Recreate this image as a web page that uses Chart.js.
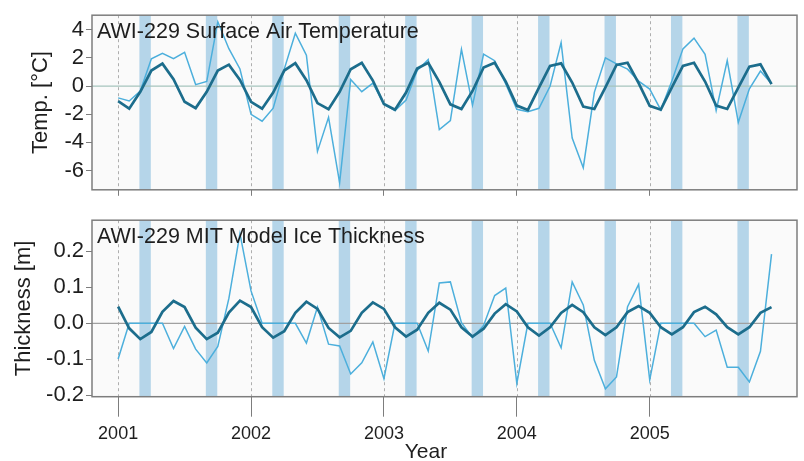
<!DOCTYPE html>
<html>
<head>
<meta charset="utf-8">
<script src="https://cdn.jsdelivr.net/npm/chart.js@4/dist/chart.umd.min.js"></script>
<style>
  body { margin: 0; background: #fff; }
  #wrap { position: relative; width: 804px; height: 461px; }
  canvas { position: absolute; left: 0; }
  #tempChart { top: 0; }
  #iceChart { top: 205px; }
</style>
</head>
<body>
<div id="wrap">
  <canvas id="tempChart" width="804" height="205"></canvas>
  <canvas id="iceChart" width="804" height="256"></canvas>
</div>
<script>
// monthly steps from Jan 2001 to Dec 2005
const months = Array.from({ length: 60 }, (_, i) => i);
const yearTicks = [0, 12, 24, 36, 48];
const yearLabels = ['2001', '2002', '2003', '2004', '2005'];
// shaded months (Mar and Sep of each year)
const bandStarts = [2, 8, 14, 20, 26, 32, 38, 44, 50, 56];

// surface air temperature, observed (thin) and fitted cycle (thick)
const tempObs = [-0.84, -1.06, -0.35, 1.94, 2.32, 1.94, 2.39, 0.10, 0.32, 4.56, 2.65, 1.21,
                 -2.01, -2.50, -1.57, 1.20, 3.75, 2.19, -4.64, -2.22, -6.87, 0.47, -0.40, 0.20,
                 -1.30, -1.75, -1.00, 1.10, 1.88, -3.10, -2.45, 2.60, -1.36, 2.26, 1.80, 0.15,
                 -1.65, -1.83, -1.58, -0.02, 3.08, -3.69, -5.80, -0.45, 2.00, 1.57, 1.20, 0.35,
                 -0.22, -1.70, 0.35, 2.64, 3.40, 2.25, -1.75, 1.81, -2.58, -0.20, 1.06, 0.16];
const tempFit = [-1.08, -1.61, -0.41, 1.10, 1.59, 0.48, -1.12, -1.57, -0.41, 1.10, 1.52, 0.43,
                 -1.12, -1.61, -0.46, 1.10, 1.62, 0.41, -1.21, -1.64, -0.41, 1.19, 1.65, 0.39,
                 -1.28, -1.68, -0.46, 1.25, 1.65, 0.30, -1.30, -1.63, -0.35, 1.32, 1.65, 0.32,
                 -1.39, -1.70, -0.12, 1.43, 1.61, 0.25, -1.46, -1.63, -0.10, 1.50, 1.65, 0.20,
                 -1.41, -1.68, -0.10, 1.43, 1.65, 0.32, -1.39, -1.63, -0.12, 1.37, 1.54, 0.14];
const tempTicks = [-6, -4, -2, 0, 2, 4];

// model ice thickness, observed (thin) and fitted cycle (thick)
const iceObs = [-0.099, 0, 0, 0, 0, -0.070, -0.009, -0.072, -0.110, -0.064, 0.069, 0.249,
                0.090, 0, 0, 0, 0, -0.055, 0.045, -0.058, -0.063, -0.141, -0.110, -0.052,
                -0.154, 0, 0, 0, -0.077, 0.112, 0.115, 0.002, -0.040, -0.006, 0.077, 0.098,
                -0.167, 0, 0, 0, -0.068, 0.115, 0.051, -0.103, -0.182, -0.149, 0.046, 0.108,
                -0.157, 0, 0, 0, 0, -0.037, -0.019, -0.122, -0.122, -0.163, -0.078, 0.192];
const iceFit = [0.046, -0.014, -0.044, -0.024, 0.032, 0.062, 0.045, -0.012, -0.044, -0.026, 0.030, 0.063,
                0.045, -0.011, -0.040, -0.022, 0.029, 0.060, 0.040, -0.013, -0.039, -0.021, 0.029, 0.058,
                0.040, -0.011, -0.037, -0.018, 0.029, 0.057, 0.038, -0.011, -0.037, -0.015, 0.027, 0.053,
                0.033, -0.011, -0.034, -0.011, 0.029, 0.051, 0.031, -0.011, -0.033, -0.011, 0.031, 0.048,
                0.029, -0.011, -0.031, -0.011, 0.031, 0.046, 0.025, -0.011, -0.031, -0.011, 0.029, 0.045];
const iceTicks = [-0.2, -0.1, 0.0, 0.1, 0.2];

const FONT = '"Liberation Sans", Arial, sans-serif';
const TEXT = '#1e1e1e';
const FRAME = '#7d7d7d';
const THIN = '#4cafdc';
const THICK = '#1c6d8c';

// panel background, shaded months, year lines, zero line, frame and heading
const panelDecor = {
  id: 'panelDecor',
  beforeDatasetsDraw(chart, args, opts) {
    const { ctx, chartArea: a, scales: { x, y } } = chart;
    ctx.save();
    ctx.fillStyle = '#fafafa';
    ctx.fillRect(a.left, a.top, a.width, a.height);
    ctx.fillStyle = '#b5d5e9';
    bandStarts.forEach(m => {
      const x0 = x.getPixelForValue(m - 0.08);
      const x1 = x.getPixelForValue(m + 0.95);
      ctx.fillRect(x0, a.top, x1 - x0, a.height);
    });
    ctx.strokeStyle = '#aeaeae';
    ctx.lineWidth = 1;
    ctx.setLineDash([3, 3]);
    yearTicks.forEach(m => {
      const px = Math.round(x.getPixelForValue(m)) + 0.5;
      ctx.beginPath();
      ctx.moveTo(px, a.top);
      ctx.lineTo(px, a.bottom);
      ctx.stroke();
    });
    ctx.setLineDash([]);
    ctx.strokeStyle = opts.zeroColor;
    ctx.lineWidth = 1.2;
    const py = y.getPixelForValue(0);
    ctx.beginPath();
    ctx.moveTo(a.left, py);
    ctx.lineTo(a.right, py);
    ctx.stroke();
    ctx.restore();
  },
  afterDraw(chart, args, opts) {
    const { ctx, chartArea: a } = chart;
    ctx.save();
    ctx.strokeStyle = FRAME;
    ctx.lineWidth = 1.5;
    ctx.strokeRect(a.left, a.top, a.width, a.height);
    ctx.fillStyle = TEXT;
    ctx.font = '21.5px ' + FONT;
    ctx.textBaseline = 'alphabetic';
    ctx.fillText(opts.heading, a.left + 5, a.top + 22.5);
    if (opts.xTitle) {
      ctx.font = '21px ' + FONT;
      ctx.textAlign = 'center';
      ctx.textBaseline = 'middle';
      ctx.fillText(opts.xTitle, 426, 247);
    }
    ctx.restore();
  }
};

function lineSets(thin, thick) {
  return [
    { data: thick.map((v, i) => ({ x: months[i], y: v })), borderColor: THICK, borderWidth: 2.7,
      pointRadius: 0, tension: 0 },
    { data: thin.map((v, i) => ({ x: months[i], y: v })), borderColor: THIN, borderWidth: 1.5,
      pointRadius: 0, tension: 0 }
  ];
}

function panelOptions(cfg) {
  return {
    responsive: false,
    animation: false,
    events: [],
    layout: { padding: cfg.padding },
    plugins: {
      legend: { display: false },
      tooltip: { enabled: false },
      panelDecor: { heading: cfg.heading, zeroColor: cfg.zeroColor, xTitle: cfg.xTitle }
    },
    scales: {
      x: {
        type: 'linear',
        min: -2.36,
        max: 61.3,
        afterFit: s => { s.height = cfg.xHeight; },
        afterBuildTicks: s => { s.ticks = yearTicks.map(v => ({ value: v })); },
        border: { display: false },
        grid: { drawOnChartArea: false, drawTicks: true, tickLength: cfg.xTickLength,
                color: FRAME, tickColor: FRAME, tickWidth: 1 },
        ticks: {
          display: cfg.showYears,
          autoSkip: false,
          maxRotation: 0,
          padding: 7,
          color: TEXT,
          font: { family: FONT, size: 18 },
          callback: (v, i) => yearLabels[i]
        }
      },
      y: {
        min: cfg.yMin,
        max: cfg.yMax,
        afterFit: s => { s.width = 92; },
        afterBuildTicks: s => { s.ticks = cfg.yTicks.map(v => ({ value: v })); },
        border: { display: false },
        grid: { drawOnChartArea: false, drawTicks: true, tickLength: 6, color: FRAME, tickColor: FRAME },
        ticks: {
          padding: 2,
          color: TEXT,
          font: { family: FONT, size: 22 },
          callback: cfg.tickFormat
        },
        title: {
          display: true,
          text: cfg.yTitle,
          color: TEXT,
          font: { family: FONT, size: 22 },
          padding: { top: cfg.titlePad, bottom: 0 }
        }
      }
    }
  };
}

new Chart(document.getElementById('tempChart'), {
  type: 'line',
  data: { datasets: lineSets(tempObs, tempFit) },
  options: panelOptions({
    padding: { top: 12.3, right: 7, bottom: 0, left: 0 },
    heading: 'AWI-229 Surface Air Temperature',
    zeroColor: '#a6c4bd',
    xHeight: 6.7,
    xTickLength: 6,
    showYears: false,
    yMin: -7.37,
    yMax: 5.03,
    yTicks: tempTicks,
    tickFormat: v => String(v),
    yTitle: 'Temp. [°C]',
    titlePad: 28
  }),
  plugins: [panelDecor]
});

new Chart(document.getElementById('iceChart'), {
  type: 'line',
  data: { datasets: lineSets(iceObs, iceFit) },
  options: panelOptions({
    padding: { top: 5.7, right: 7, bottom: 4.3, left: 0 },
    heading: 'AWI-229 MIT Model Ice Thickness',
    zeroColor: '#a0a0a0',
    xTitle: 'Year',
    xHeight: 60,
    xTickLength: 20,
    showYears: true,
    yMin: -0.204,
    yMax: 0.2865,
    yTicks: iceTicks,
    tickFormat: v => v.toFixed(1),
    yTitle: 'Thickness [m]',
    titlePad: 11
  }),
  plugins: [panelDecor]
});
</script>
</body>
</html>
